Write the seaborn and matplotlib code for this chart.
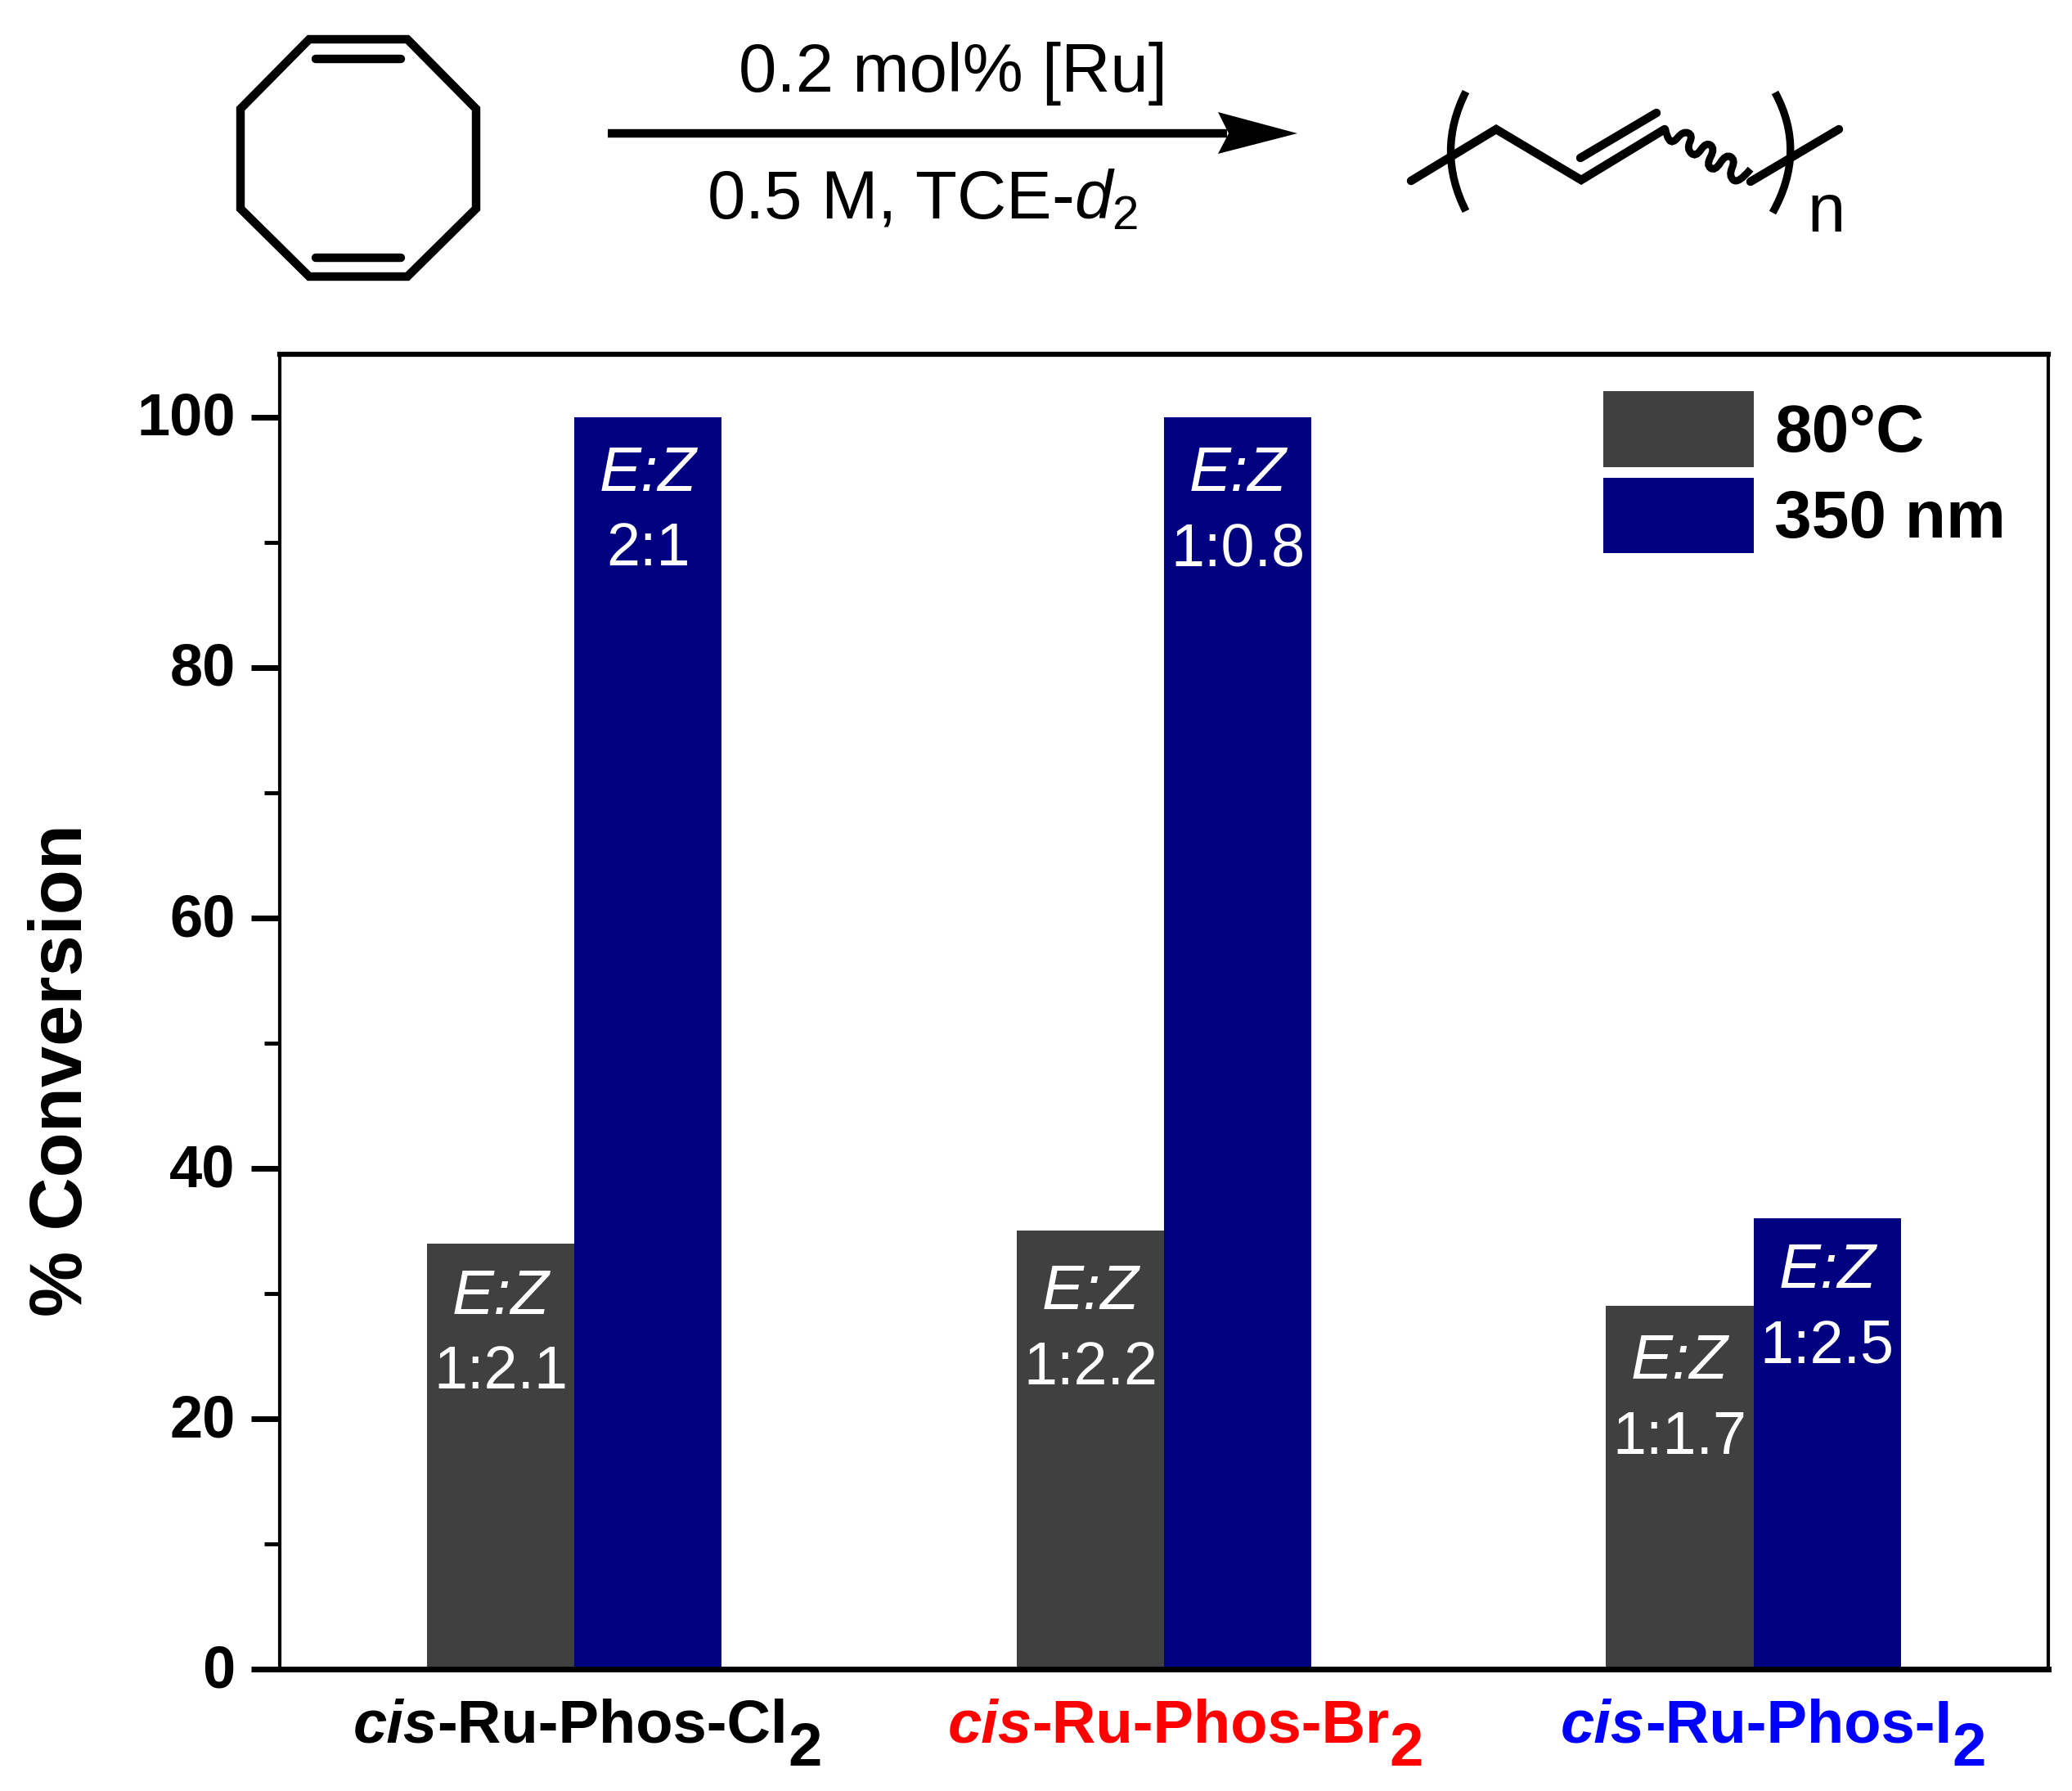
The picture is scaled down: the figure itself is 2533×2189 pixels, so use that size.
# Barras de conversão com o esquema da reação em cima
import numpy as np
import pandas as pd
import matplotlib
matplotlib.use('Agg')
import matplotlib.pyplot as plt
import seaborn as sns
from matplotlib.patches import PathPatch, Polygon
from matplotlib.path import Path
from matplotlib.transforms import ScaledTranslation

# Dados do gráfico
complexos = ['Cl', 'Br', 'I']
conv_80c = [34, 35, 29]
conv_350nm = [100, 100, 36]
razao_80c = ['1:2.1', '1:2.2', '1:1.7']
razao_350nm = ['2:1', '1:0.8', '1:2.5']
cores_rotulos = ['black', '#ff0000', '#0000ff']
condicoes = ['80°C', '350 nm']
cor_barras = {'80°C': '#404040', '350 nm': '#000080'}

df = pd.DataFrame({
    'complexo': complexos * 2,
    'conversao': conv_80c + conv_350nm,
    'condicao': [condicoes[0]] * 3 + [condicoes[1]] * 3,
})

W, H = 2533, 2189
sns.set_theme(style='ticks')
plt.rcParams['font.family'] = ['Liberation Sans', 'DejaVu Sans']
plt.rcParams['text.color'] = 'black'
plt.rcParams['axes.labelcolor'] = 'black'
plt.rcParams['xtick.labelcolor'] = 'black'
plt.rcParams['ytick.labelcolor'] = 'black'
plt.rcParams['ytick.color'] = 'black'
plt.rcParams['mathtext.fontset'] = 'custom'
plt.rcParams['mathtext.rm'] = 'Liberation Sans'
plt.rcParams['mathtext.it'] = 'Liberation Sans:italic'

fig = plt.figure(figsize=(W / 100, H / 100), dpi=100)
ax = fig.add_axes([342 / W, (H - 2040) / H, 2162 / W, 1607 / H])

sns.barplot(data=df, x='complexo', y='conversao', hue='condicao', palette=cor_barras,
            width=0.5, gap=0, saturation=1, linewidth=0, ax=ax)

ax.set_ylim(0, 105)
ax.set_xlim(-0.5, 2.5)
ax.set_yticks([0, 20, 40, 60, 80, 100])
ax.set_yticks([10, 30, 50, 70, 90], minor=True)
ax.set_xticks([0, 1, 2], ['', '', ''])
ax.set_xlabel('')
ax.set_ylabel('% Conversion', fontsize=65, fontweight='bold')
ax.yaxis.set_label_coords(-0.1033, 0.4555)

ax.tick_params(axis='x', length=0)
ax.tick_params(axis='y', which='major', length=25, width=5, pad=14, labelsize=52)
ax.tick_params(axis='y', which='minor', length=14, width=3.5)
for t in ax.get_yticklabels():
    t.set_fontweight('bold')
    t.set_transform(t.get_transform() + ScaledTranslation(0, 3 / 72, fig.dpi_scale_trans))

for lado, esp in {'left': 3, 'right': 3, 'top': 4.5, 'bottom': 5}.items():
    ax.spines[lado].set_visible(True)
    ax.spines[lado].set_linewidth(esp)
    ax.spines[lado].set_color('black')

# Legenda
sns.move_legend(ax, 'upper left', bbox_to_anchor=(1960 / 2162 - 342 / 2162, (2040 - 478) / 1607),
                title=None, frameon=False, fontsize=59, borderpad=0, borderaxespad=0,
                handlelength=2.25, handleheight=1.36, labelspacing=0.16, handletextpad=0.3)
for t in ax.get_legend().get_texts():
    t.set_fontweight('bold')

# Razões E:Z dentro das barras (descida do texto em pontos, lida barra a barra)
descida_80c = [62, 69, 64]
descida_350nm = [65, 65, 61]
for barras, razoes, descidas in zip(ax.containers, [razao_80c, razao_350nm], [descida_80c, descida_350nm]):
    for barra, razao, d in zip(barras, razoes, descidas):
        xc = barra.get_x() + barra.get_width() / 2
        topo = barra.get_height()
        ax.annotate('E:Z', (xc, topo), xytext=(0, -d), textcoords='offset points',
                    ha='center', va='baseline', color='white', fontsize=55, style='italic')
        ax.annotate(razao, (xc, topo), xytext=(0, -d - 66), textcoords='offset points',
                    ha='center', va='baseline', color='white', fontsize=53)

# Camada em pixels para o esquema e os rótulos compostos
esq = fig.add_axes([0, 0, 1, 1], facecolor='none')
esq.set_xlim(0, W)
esq.set_ylim(H, 0)
esq.axis('off')
lw = 7.5

# Rótulos do eixo x: itálico + negrito + subscrito do mesmo tamanho
renderer = fig.canvas.get_renderer()
centros = [718, 1449, 2168]
for halogeneo, cor, centro in zip(['Cl', 'Br', 'I'], cores_rotulos, centros):
    partes = [('cis', 'italic', 2130), (f'-Ru-Phos-{halogeneo}', 'normal', 2130), ('2', 'normal', 2158)]
    textos = [esq.text(0, y, s, fontsize=53.5, fontweight='bold', style=st, color=cor, va='baseline')
              for s, st, y in partes]
    larguras = [t.get_window_extent(renderer).width for t in textos]
    x = centro - sum(larguras) / 2
    for t, w in zip(textos, larguras):
        t.set_x(x)
        x += w

# Cicloocta-1,5-dieno
anel = [(378, 48), (498, 48), (582, 133), (582, 255), (498, 338), (378, 338), (294, 255), (294, 133)]
esq.add_patch(Polygon(anel, closed=True, fill=False, edgecolor='black', lw=lw, joinstyle='miter'))
esq.plot([386, 490], [72, 72], color='black', lw=lw, solid_capstyle='round')
esq.plot([386, 490], [315, 315], color='black', lw=lw, solid_capstyle='round')

# Seta e condições
esq.plot([743, 1500], [163, 163], color='black', lw=lw, solid_capstyle='butt')
esq.add_patch(Polygon([(1586, 163), (1489, 137), (1502, 163), (1489, 188)], closed=True,
                      facecolor='black', edgecolor='none'))
esq.text(1165, 112, '0.2 mol% [Ru]', fontsize=60, ha='center', va='baseline', color='black')
esq.text(1128, 268, '0.5 M, TCE-$\\mathit{d}_{2}$', fontsize=60, ha='center', va='baseline', color='black')

# Polímero
esq.plot([1725, 1829, 1933, 2035], [221, 158, 220, 158], color='black', lw=lw,
         solid_capstyle='round', solid_joinstyle='miter')
esq.plot([1932, 2025], [193, 138], color='black', lw=lw, solid_capstyle='round')
esq.plot([2140, 2248], [222, 158], color='black', lw=lw, solid_capstyle='round')


def curva(pontos):
    # Curva suave passando pelos pontos médios, terminando no último ponto
    p = np.array(pontos, dtype=float)
    verts = [p[0]]
    codes = [Path.MOVETO]
    for a, b in zip(p[1:-2], p[2:-1]):
        verts += [a, (a + b) / 2]
        codes += [Path.CURVE3, Path.CURVE3]
    verts += [p[-2], p[-1]]
    codes += [Path.CURVE3, Path.CURVE3]
    return Path(verts, codes)


onda = [(890, 325), (893, 350), (910, 378), (940, 330), (968, 345), (950, 395), (975, 428),
        (1005, 370), (1030, 395), (1005, 455), (1030, 478), (1060, 415), (1088, 435),
        (1068, 495), (1095, 525), (1130, 470)]
onda_px = [(1650 + a / 2.306, 50 + b / 3) for a, b in onda]
esq.add_patch(PathPatch(curva(onda_px), fill=False, edgecolor='black', lw=lw * 0.85))
esq.add_patch(PathPatch(curva([(1792, 112), (1755, 185), (1792, 258)]), fill=False, edgecolor='black', lw=lw * 0.9))
esq.add_patch(PathPatch(curva([(2170, 113), (2209, 185), (2167, 260)]), fill=False, edgecolor='black', lw=lw * 0.9))
esq.text(2233, 283, 'n', fontsize=60, ha='center', va='baseline', color='black')

fig.savefig('out.png', dpi=100)
